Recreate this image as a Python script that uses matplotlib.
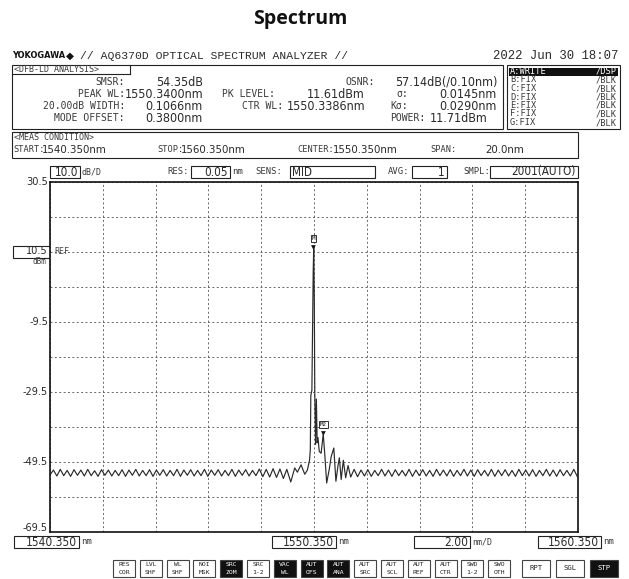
import numpy as np
import matplotlib
matplotlib.use('Agg')
import matplotlib.pyplot as plt
from matplotlib.patches import Rectangle

# ---------------- data ----------------
start_wl, stop_wl, center_wl = 1540.35, 1560.35, 1550.35
top_level, bottom_level = 30.5, -69.5
y_label_values = [30.5, -9.5, -29.5, -49.5, -69.5]
y_label_texts = ['30.5', '-9.5', '-29.5', '-49.5', '-69.5']
ref_level = 10.5

noise_step = 0.13
noise_left = [
    -53.2, -51.8, -53.5, -51.6, -53.4, -51.9, -53.6, -51.7, -53.3, -51.8,
    -53.5, -51.6, -53.4, -52.0, -53.6, -51.7, -53.3, -51.8, -53.5, -51.9,
    -53.4, -51.7, -53.6, -51.8, -53.3, -51.6, -53.5, -51.9, -53.4, -51.7,
    -53.6, -51.8, -53.3, -51.7, -53.5, -51.9, -53.4, -51.6, -53.6, -51.8,
    -53.3, -51.7, -53.5, -51.9, -53.4, -51.6, -53.6, -51.8, -53.3, -51.7,
    -53.5, -51.9, -53.4, -51.6, -53.6, -51.8, -53.3, -51.7, -53.5, -51.9,
    -53.4, -51.5, -53.7, -51.6, -53.8, -51.4, -53.9, -51.5, -54.2, -51.6]
noise_right_start = 1551.87
noise_right = [
    -51.6, -53.7, -51.8, -53.5, -51.7, -53.6, -51.9, -53.4, -51.6, -53.5,
    -51.8, -53.6, -51.7, -53.4, -51.9, -53.5, -51.6, -53.6, -51.8, -53.4,
    -51.7, -53.5, -51.9, -53.6, -51.6, -53.4, -51.8, -53.5, -51.7, -53.6,
    -51.9, -53.4, -51.6, -53.5, -51.8, -53.6, -51.7, -53.4, -51.9, -53.5,
    -51.6, -53.6, -51.8, -53.4, -51.7, -53.5, -51.9, -53.6, -51.6, -53.4,
    -51.8, -53.5, -51.7, -53.6, -51.9, -53.4, -51.6, -53.5, -51.8, -53.6,
    -51.7, -53.4, -51.9, -53.5, -51.6, -53.6]
peak_wl = [1549.47, 1549.62, 1549.72, 1549.86, 1550.00, 1550.10, 1550.18,
           1550.21, 1550.23, 1550.27, 1550.29, 1550.32, 1550.34, 1550.36,
           1550.38, 1550.41, 1550.44, 1550.47, 1550.50, 1550.55, 1550.62,
           1550.70, 1550.76, 1550.83, 1550.93, 1551.00, 1551.10, 1551.18,
           1551.26, 1551.31, 1551.38, 1551.46, 1551.55, 1551.64, 1551.74]
peak_lv = [-55.2, -51.2, -52.4, -50.3, -53.0, -51.8, -49.0,
           -46.0, -30.5, -29.0, -14.5, 5.0, 11.61, -2.0,
           -30.0, -44.5, -31.5, -44.0, -42.5, -46.5, -47.0,
           -41.5, -47.5, -55.5, -51.5, -48.0, -45.5, -55.0,
           -50.5, -48.3, -54.5, -49.0, -54.0, -50.5, -53.8]
marker1 = (1550.34, 11.61)
marker2 = (1550.70, -41.5)

analysis_labels = ['SMSR:', 'PEAK WL:', '20.00dB WIDTH:', 'MODE OFFSET:']
analysis_values = ['54.35dB', '1550.3400nm', '0.1066nm', '0.3800nm']
mid_labels = ['', 'PK LEVEL:', 'CTR WL:', '']
mid_values = ['', '11.61dBm', '1550.3386nm', '']
right_labels = ['OSNR:', '\u03c3:', 'K\u03c3:', 'POWER:']
right_values = ['57.14dB(/0.10nm)', '0.0145nm', '0.0290nm', '11.71dBm']
trace_rows = [('A:WRITE', '/DSP'), ('B:FIX', '/BLK'), ('C:FIX', '/BLK'),
              ('D:FIX', '/BLK'), ('E:FIX', '/BLK'), ('F:FIX', '/BLK'),
              ('G:FIX', '/BLK')]
buttons = [('RES', 'COR', False), ('LVL', 'SHF', False), ('WL', 'SHF', False),
           ('NOI', 'MSK', False), ('SRC', 'ZOM', True), ('SRC', '1-2', False),
           ('VAC', 'WL', True), ('AUT', 'OFS', True), ('AUT', 'ANA', True),
           ('AUT', 'SRC', False), ('AUT', 'SCL', False), ('AUT', 'REF', False),
           ('AUT', 'CTR', False), ('SWD', '1-2', False), ('SWO', 'OTH', False)]
big_buttons = [('RPT', False), ('SGL', False), ('STP', True)]

# ---------------- figure ----------------
W, H = 629, 579
fig = plt.figure(figsize=(W / 100, H / 100), dpi=100)
fig.patch.set_facecolor('white')
ov = fig.add_axes([0, 0, 1, 1])
ov.set_xlim(0, W)
ov.set_ylim(H, 0)
ov.axis('off')

MONO = ['Liberation Mono', 'DejaVu Sans Mono']
LBL = ['DejaVu Sans Mono']
NUM = ['DejaVu Sans']
TXT = '#2a2a2a'
LC = '#3a3a3a'


def t(x, y, s, size=8, ha='left', va='center', fam=MONO, color=TXT, **kw):
    ov.text(x, y, s, fontsize=size, ha=ha, va=va, family=fam, color=color, **kw)


def num(x, y, s, size=9, ha='left', color=TXT):
    ov.text(x, y, s, fontsize=size, ha=ha, va='center', family=NUM,
            fontstretch='condensed', color=color)


def lab(x, y, s, size=7.0, ha='left', color=LC):
    t(x, y, s, size=size, ha=ha, fam=LBL, color=color)


def box(x0, y0, x1, y1, lw=0.8, fc='none', ec='#222222'):
    ov.add_patch(Rectangle((x0, y0), x1 - x0, y1 - y0, lw=lw, fc=fc, ec=ec))


# title
ov.text(W / 2 - 14, 19, 'Spectrum', fontsize=14, fontweight='bold', ha='center',
        va='center', family=['Open Sans', 'DejaVu Sans'], color='#111111')

# header line
ov.text(12, 56, 'YOKOGAWA', fontsize=6.6, fontweight='bold', ha='left', va='center',
        family=['DejaVu Sans'], fontstretch='condensed', color='#111111')
ov.text(70, 56, '\u25c6', fontsize=7.5, ha='center', va='center', family=['DejaVu Sans'],
        color='#111111')
t(80, 56, '// AQ6370D OPTICAL SPECTRUM ANALYZER //', size=8.2)
t(618, 56, '2022 Jun 30 18:07', size=8.8, ha='right')

# analysis box
box(12, 65, 503, 129)
ov.plot([12, 130], [74, 74], color='#222222', lw=0.8)
ov.plot([130, 130], [65, 74], color='#222222', lw=0.8)
lab(14, 69.5, '<DFB-LD ANALYSIS>', size=6.0)
rows_y = [82, 94, 106, 118]
for i, y in enumerate(rows_y):
    lab(125, y, analysis_labels[i], ha='right')
    num(203, y, analysis_values[i], ha='right')
    if mid_labels[i]:
        lab(275 if i == 1 else 283, y, mid_labels[i], ha='right')
        num(365, y, mid_values[i], ha='right')
rx_lab = [375, 408, 408, 425]
rx_val = [497, 497, 497, 488]
for i, y in enumerate(rows_y):
    lab(rx_lab[i], y, right_labels[i], ha='right')
    num(rx_val[i], y, right_values[i], ha='right')

# trace panel
box(507, 65, 620, 129)
for i, (a, b) in enumerate(trace_rows):
    y = 71.5 + i * 8.5
    if i == 0:
        ov.add_patch(Rectangle((509, y - 4), 109, 8, fc='#111111', ec='none'))
        lab(510, y, a, size=6.2, color='white')
        lab(617, y, b, size=6.2, ha='right', color='white')
    else:
        lab(510, y, a, size=6.2)
        lab(617, y, b, size=6.2, ha='right')

# meas condition box
box(12, 132, 578, 158)
lab(14, 137.5, '<MEAS CONDITION>', size=6.0)
my = 150
lab(13, my, 'START:', size=6.2)
num(42, my, '1540.350nm', size=8.2)
lab(157, my, 'STOP:', size=6.2)
num(181, my, '1560.350nm', size=8.2)
lab(297, my, 'CENTER:', size=6.2)
num(333, my, '1550.350nm', size=8.2)
lab(430, my, 'SPAN:', size=6.2)
num(485, my, '20.0nm', size=8.2)

# settings row
sy = 172
box(50, 166, 80, 178)
num(78, sy, '10.0', size=8.4, ha='right')
lab(82, sy, 'dB/D', size=6.0)
lab(167, sy, 'RES:', size=6.4)
box(191, 166, 230, 178)
num(228, sy, '0.05', size=8.4, ha='right')
lab(232, sy, 'nm', size=6.4)
lab(255, sy, 'SENS:', size=6.4)
box(290, 166, 375, 178)
num(292, sy, 'MID', size=8.4)
lab(388, sy, 'AVG:', size=6.4)
box(412, 166, 447, 178)
num(445, sy, '1', size=8.4, ha='right')
lab(463, sy, 'SMPL:', size=6.4)
box(490, 166, 578, 178)
num(576, sy, '2001(AUTO)', size=8.4, ha='right')

# ---------------- spectrum axes ----------------
L, R, T, B = 50, 578, 182, 532
ax = fig.add_axes([L / W, (H - B) / H, (R - L) / W, (B - T) / H])
ax.set_xlim(start_wl, stop_wl)
ax.set_ylim(bottom_level, top_level)
ax.set_xticks(np.linspace(start_wl, stop_wl, 11))
ax.set_yticks(np.linspace(bottom_level, top_level, 11))
ax.tick_params(length=0, labelleft=False, labelbottom=False)
ax.grid(True, color='#666666', lw=0.7, linestyle=(0, (2, 2.5)))
for s in ax.spines.values():
    s.set_color('#111111')
    s.set_linewidth(1.2)

wl = np.concatenate([start_wl + noise_step * np.arange(len(noise_left)),
                     np.array(peak_wl),
                     noise_right_start + noise_step * np.arange(len(noise_right))])
lv = np.concatenate([noise_left, peak_lv, noise_right])
ax.plot(wl, lv, color='#2a2a2a', lw=0.85)

for (mw, ml), labt in [(marker1, 'M'), (marker2, 'M2')]:
    ax.annotate('\u25bc', xy=(mw, ml), xytext=(0, -1.5), textcoords='offset points',
                ha='center', va='bottom', fontsize=4.5, color='#111111')
    ax.annotate(labt, xy=(mw, ml), xytext=(0, 5), textcoords='offset points',
                ha='center', va='bottom', fontsize=4.2, color='#111111', family=LBL,
                bbox=dict(boxstyle='square,pad=0.15', fc='white', ec='#111111', lw=0.6))

ax.text(start_wl + 0.15, ref_level, 'REF', fontsize=6, va='center', ha='left',
        family=LBL, color='#444444')

for v, s in zip(y_label_values, y_label_texts):
    dy = 3 if v == bottom_level else 0
    ax.annotate(s, xy=(0, v), xycoords=ax.get_yaxis_transform(), xytext=(-1.5, dy),
                textcoords='offset points', ha='right', va='center',
                fontsize=7.8, family=NUM, fontstretch='condensed', color=TXT)
# REF level box label
box(13, 246, 50, 257.5)
num(48, 251.5, '10.5', size=7.8, ha='right')
lab(46, 262, 'dBm', size=5.5, ha='right', color='#444444')

# ---------------- bottom row ----------------
by = 542
box(14, 536, 79, 548)
num(77, by, '1540.350', size=8.6, ha='right')
lab(81, by, 'nm', size=6.4)
box(272, 536, 336, 548)
num(334, by, '1550.350', size=8.6, ha='right')
lab(338, by, 'nm', size=6.4)
box(414, 536, 470, 548)
num(468, by, '2.00', size=8.6, ha='right')
lab(472, by, 'nm/D', size=6.0)
box(538, 536, 601, 548)
num(599, by, '1560.350', size=8.6, ha='right')
lab(603, by, 'nm', size=6.4)

bx0, pitch, bw, by0, bh = 113, 26.8, 22, 560, 17
for i, (a, b, dark) in enumerate(buttons):
    x = bx0 + i * pitch
    ov.add_patch(Rectangle((x, by0), bw, bh, fc='#111111' if dark else 'white',
                           ec='#444444', lw=0.8))
    c = 'white' if dark else '#222222'
    lab(x + bw / 2, by0 + 5, a, size=4.6, ha='center', color=c)
    lab(x + bw / 2, by0 + 12, b, size=4.6, ha='center', color=c)
for j, (a, dark) in enumerate(big_buttons):
    x = 522 + j * 34
    ov.add_patch(Rectangle((x, by0), 28, bh, fc='#111111' if dark else 'white',
                           ec='#444444', lw=0.8))
    lab(x + 14, by0 + bh / 2, a, size=5.2, ha='center',
        color='white' if dark else '#222222')

fig.savefig('out.png', dpi=100, facecolor='white')
